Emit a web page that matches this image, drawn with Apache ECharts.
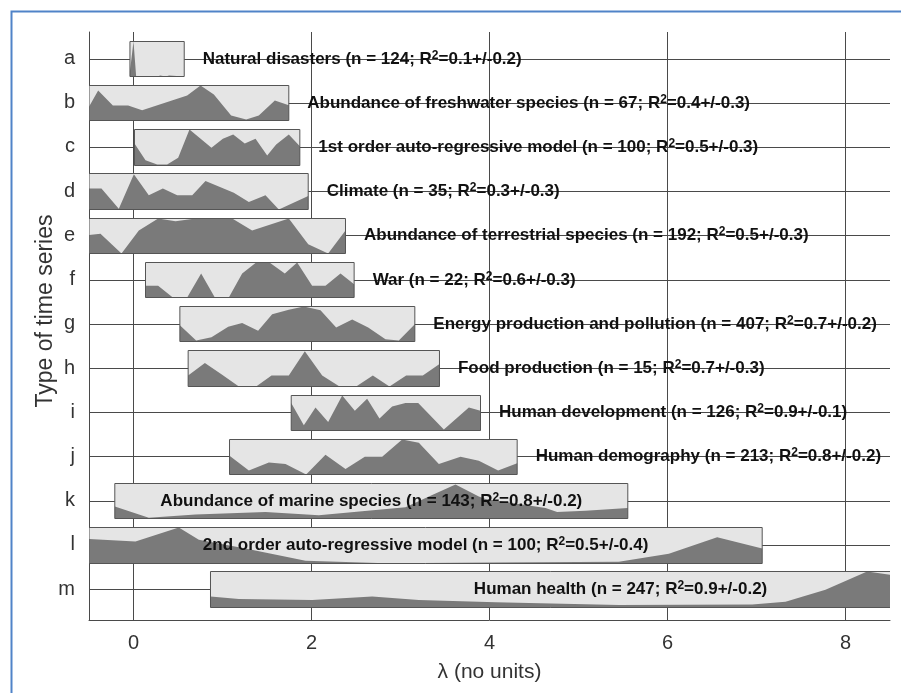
<!DOCTYPE html>
<html>
<head>
<meta charset="utf-8">
<script src="https://cdn.jsdelivr.net/npm/echarts@6/dist/echarts.min.js"></script>
<style>
html,body{margin:0;padding:0;background:#fff;}
#chart{width:901px;height:693px;}
</style>
</head>
<body>
<div id="chart"></div>
<script>
// rows, top to bottom
const rowLetters = ['a','b','c','d','e','f','g','h','i','j','k','l','m'];
const seriesNames = ['Natural disasters','Abundance of freshwater species','1st order auto-regressive model','Climate',
  'Abundance of terrestrial species','War','Energy production and pollution','Food production','Human development',
  'Human demography','Abundance of marine species','2nd order auto-regressive model','Human health'];
const nValues = [124,67,100,35,192,22,407,15,126,213,143,100,247];
const r2Values = [0.1,0.4,0.5,0.3,0.5,0.6,0.7,0.7,0.9,0.8,0.8,0.5,0.9];
const r2Errors = [0.2,0.3,0.3,0.3,0.3,0.3,0.2,0.3,0.1,0.2,0.2,0.4,0.2];
// lambda range of each box
const boxStart = [-0.04,-0.5,0.011,-0.5,-0.5,0.135,0.521,0.614,1.772,1.079,-0.21,-0.5,0.865];
const boxEnd = [0.57,1.745,1.869,1.963,2.382,2.479,3.161,3.438,3.899,4.311,5.554,7.064,10.08];
// silhouettes: [lambda, relative height in box]
const shapeA = [[-0.04,0.15],[0.0,1.0],[0.03,0.0],[0.27,0.0],[0.3,0.03],[0.36,0.0],[0.4,0.03],[0.57,0.0]];
const shapeB = [[-0.5,0.39],[-0.397,0.857],[-0.232,0.43],[-0.06,0.43],[0.097,0.295],[0.603,0.714],[0.753,1.0],[0.903,0.743],[1.097,0.143],[1.266,0.03],[1.408,0.143],[1.588,0.571],[1.745,0.438]];
const shapeC = [[0.011,0.61],[0.135,0.148],[0.266,0.028],[0.378,0.028],[0.502,0.213],[0.629,1.0],[0.876,0.49],[1.004,0.74],[1.12,0.86],[1.25,0.61],[1.371,0.74],[1.502,0.278],[1.603,0.583],[1.745,0.86],[1.869,0.537]];
const shapeD = [[-0.5,0.58],[-0.36,0.58],[-0.165,0.02],[0.004,0.98],[0.172,0.393],[0.33,0.58],[0.491,0.393],[0.66,0.393],[0.809,0.794],[1.127,0.467],[1.296,0.206],[1.483,0.393],[1.633,0.0],[1.963,0.374]];
const shapeE = [[-0.5,0.528],[-0.371,0.566],[-0.135,0.0],[0.06,0.66],[0.277,1.0],[0.472,0.925],[0.697,1.0],[1.109,1.0],[1.333,0.66],[1.745,1.0],[1.963,0.264],[2.187,0.0],[2.382,0.66]];
const shapeF = [[0.135,0.333],[0.277,0.333],[0.442,0.0],[0.603,0.0],[0.76,0.686],[0.914,0.0],[1.071,0.0],[1.221,0.686],[1.378,1.0],[1.528,1.0],[1.7,0.686],[1.839,1.0],[2.007,0.333],[2.157,0.333],[2.326,0.686],[2.479,0.38]];
const shapeG = [[0.521,0.467],[0.704,0.03],[0.876,0.12],[1.064,0.42],[1.221,0.53],[1.4,0.31],[1.558,0.776],[1.745,0.907],[1.914,1.0],[2.101,0.89],[2.277,0.402],[2.457,0.626],[2.637,0.402],[2.831,0.065],[2.981,0.028],[3.161,0.495]];
const shapeH = [[0.614,0.308],[0.802,0.654],[0.996,0.327],[1.184,0.0],[1.378,0.0],[1.551,0.308],[1.745,0.308],[1.925,0.98],[2.12,0.308],[2.315,0.0],[2.502,0.0],[2.689,0.308],[2.876,0.0],[3.064,0.308],[3.251,0.308],[3.438,0.626]];
const shapeI = [[1.772,0.783],[1.914,0.151],[2.045,0.66],[2.187,0.245],[2.345,1.0],[2.487,0.566],[2.625,0.906],[2.764,0.34],[2.906,0.689],[3.056,0.783],[3.199,0.783],[3.487,0.028],[3.768,0.66],[3.899,0.566]];
const shapeJ = [[1.079,0.533],[1.296,0.112],[1.521,0.346],[1.708,0.299],[1.94,0.0],[2.157,0.561],[2.382,0.159],[2.599,0.505],[2.794,0.505],[3.019,1.0],[3.206,0.907],[3.431,0.299],[3.674,0.505],[3.88,0.393],[4.097,0.112],[4.311,0.318]];
const shapeK = [[-0.21,0.346],[0.172,0.019],[0.697,0.112],[1.483,0.187],[2.082,0.093],[2.569,0.206],[3.056,0.318],[3.356,0.673],[3.618,0.972],[3.88,0.626],[3.955,0.56],[4.629,0.3],[4.76,0.187],[5.079,0.224],[5.554,0.3]];
const shapeL = [[-0.5,0.68],[0.022,0.612],[0.509,1.0],[0.734,0.66],[1.258,0.417],[1.933,0.078],[2.831,0.01],[4.067,0.03],[5.453,0.05],[6.015,0.272],[6.558,0.728],[7.064,0.417]];
const shapeM = [[0.865,0.305],[1.184,0.238],[2.007,0.21],[2.682,0.305],[3.206,0.21],[4.067,0.143],[5.453,0.067],[6.952,0.086],[7.326,0.162],[7.775,0.495],[8.243,1.0],[8.506,0.905]];
const shapes = [shapeA,shapeB,shapeC,shapeD,shapeE,shapeF,shapeG,shapeH,shapeI,shapeJ,shapeK,shapeL,shapeM];

var chart = echarts.init(document.getElementById('chart'));

function labelText(i){
    return '{b|' + seriesNames[i] + ' (n = ' + nValues[i] + '; R}{s|2}{b|=' +
        r2Values[i].toFixed(1) + '+/-' + r2Errors[i].toFixed(1) + ')}';
}

function renderRow(params, api){
    var i = params.dataIndex;
    var cs = params.coordSys;
    var x0 = api.coord([api.value(0), api.value(1)])[0];
    var x1 = api.coord([api.value(2), api.value(1)])[0];
    var yc = Math.round(api.coord([0, api.value(1)])[1]) + 0.5;
    var yTop = Math.round(api.coord([0, api.value(1) - 0.4])[1]) + 0.5;
    var yBot = Math.round(api.coord([0, api.value(1) + 0.4])[1]) + 0.5;
    var h = yBot - yTop;
    var pts = shapes[i].map(function(p){
        return [api.coord([p[0], 0])[0], yBot - p[1] * h];
    });
    pts.push([x1, yBot]);
    pts.push([x0, yBot]);
    var inside = (api.value(2) - api.value(0)) > 5;
    var tx = inside ? (x0 + x1) / 2 : x1 + 18.5;
    return {
        type: 'group',
        children: [
            {type:'line', shape:{x1: cs.x, y1: yc, x2: cs.x + cs.width, y2: yc}, style:{stroke:'#4a4a4a', lineWidth:1}},
            {type:'rect', shape:{x: x0, y: yTop, width: x1 - x0, height: h}, style:{fill:'#e5e5e5'}},
            {type:'polygon', shape:{points: pts}, style:{fill:'#7a7a7a'}},
            {type:'rect', shape:{x: x0, y: yTop, width: x1 - x0, height: h}, style:{fill:null, stroke:'#555', lineWidth:1}},
            {type:'text', x: tx, y: yc, style:{
                text: labelText(i),
                align: inside ? 'center' : 'left',
                verticalAlign: 'middle',
                rich: {
                    b: {fontSize:17, fontWeight:'bold', fontFamily:'Liberation Sans', fill:'#111', lineHeight:20},
                    s: {fontSize:12, fontWeight:'bold', fontFamily:'Liberation Sans', fill:'#111', lineHeight:5, verticalAlign:'top'}
                }
            }}
        ]
    };
}

chart.setOption({
    animation: false,
    grid: {left: 89, right: 11, top: 32, bottom: 73},
    graphic: [{
        type: 'rect', left: 9, top: 9, shape: {width: 1000, height: 1000},
        style: {fill: null, stroke: '#5083c8', lineWidth: 2}, z: -1
    }],
    xAxis: {
        type: 'value', min: -0.5, max: 8.5,
        name: 'λ (no units)', nameLocation: 'middle', nameGap: 42,
        nameTextStyle: {fontSize: 21, color: '#333', fontFamily: 'Liberation Sans'},
        axisLine: {show: true, onZero: false, lineStyle: {color: '#4a4a4a'}},
        axisTick: {show: false},
        axisLabel: {fontSize: 20, color: '#333', margin: 13, fontFamily: 'Liberation Sans',
            formatter: function(v){ return (Math.abs(v % 2) < 1e-9) ? String(v) : ''; }},
        splitLine: {show: true, showMinLine: false, showMaxLine: false, lineStyle: {color: '#4a4a4a', width: 1}}
    },
    yAxis: {
        type: 'value', inverse: true, min: -0.6, max: 12.7,
        name: 'Type of time series', nameLocation: 'middle', nameGap: 32, nameMoveOverlap: false,
        nameTextStyle: {fontSize: 23, color: '#333', fontFamily: 'Liberation Sans', padding: [0, 0, 0, 30]},
        axisLine: {show: true, onZero: false, lineStyle: {color: '#4a4a4a'}},
        axisTick: {show: false},
        splitLine: {show: false},
        axisLabel: {fontSize: 20, color: '#333', margin: 14, fontFamily: 'Liberation Sans',
            customValues: rowLetters.map(function(_, i){ return i; }),
            formatter: function(v){ return rowLetters[v] || ''; }}
    },
    series: [{
        type: 'custom',
        clip: true,
        renderItem: renderRow,
        encode: {x: [0, 2], y: 1},
        data: rowLetters.map(function(_, i){ return [boxStart[i], i, boxEnd[i]]; })
    }]
});
</script>
</body>
</html>
